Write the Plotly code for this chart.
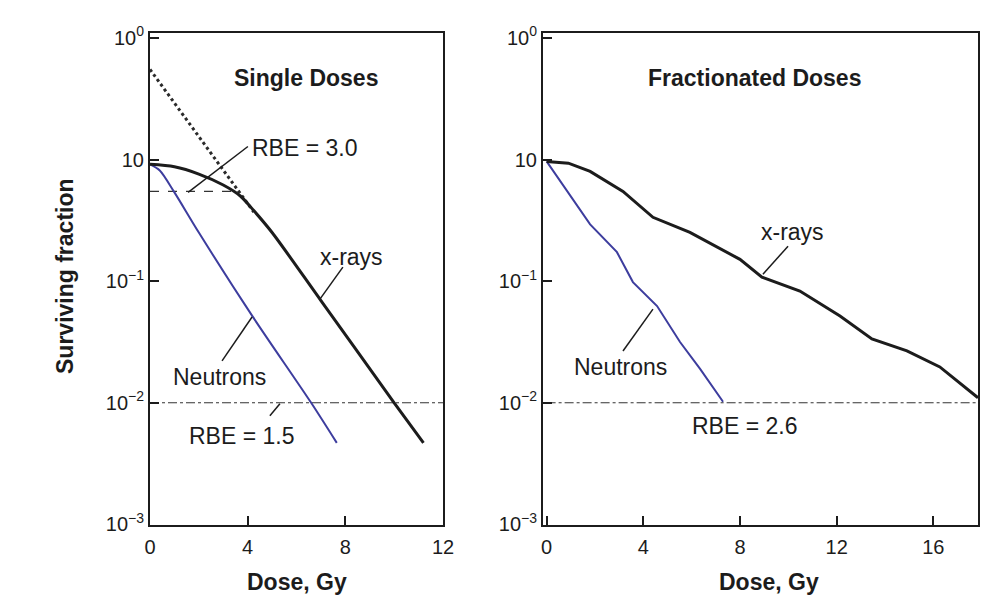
import plotly.graph_objects as go

# ---------------- data (surviving fraction vs dose) ----------------
# Left panel: single doses
single_xray_dose = [0, 1, 2, 3, 3.7, 4.25, 5, 7, 10, 11.2]
single_xray_sf = [0.0912, 0.0871, 0.0759, 0.0617, 0.0501, 0.0380, 0.0251, 0.00692, 0.00100, 0.000468]

single_neut_dose = [0, 0.4, 1.0, 2, 4.2, 6.6, 7.65]
single_neut_sf = [0.0912, 0.0813, 0.0537, 0.0251, 0.00513, 0.00100, 0.000468]

extrap_dose = [0, 4.25]
extrap_sf = [0.55, 0.037]

rbe3_dose = [0, 3.4]
rbe3_sf = [0.0547, 0.0547]

level_single_dose = [0, 12]
level_single_sf = [0.001, 0.001]

# Right panel: fractionated doses
frac_xray_dose = [0, 0.9, 1.8, 3.16, 4.4, 5.93, 8.0, 8.91, 10.48, 12.14, 13.46, 14.91, 16.27, 17.85]
frac_xray_sf = [0.0964, 0.0933, 0.0798, 0.0547, 0.0335, 0.0252, 0.0151, 0.0108, 0.00828,
                0.00516, 0.00335, 0.00267, 0.00197, 0.00110]

frac_neut_dose = [0, 0.43, 1.8, 2.91, 3.57, 4.57, 5.52, 6.35, 7.3]
frac_neut_sf = [0.0964, 0.0726, 0.0293, 0.0173, 0.00982, 0.00624, 0.00316, 0.0019, 0.00102]

level_frac_dose = [0, 17.85]
level_frac_sf = [0.001, 0.001]

y_tickvals = [1, 0.1, 0.01, 0.001, 0.0001]
y_ticktext = ["10<sup>0</sup>", "10", "10<sup>\u22121</sup>", "10<sup>\u22122</sup>", "10<sup>\u22123</sup>"]
x_ticks_left = [0, 4, 8, 12]
x_ticks_right = [0, 4, 8, 12, 16]

# ---------------- figure ----------------
INK = "#1c1c1c"
BLUE = "#3d3d9e"
FONT = "Liberation Sans, Arial, sans-serif"

fig = go.Figure()

def line(x, y, xa, ya, color, width, dash="solid", shape="linear"):
    fig.add_trace(go.Scatter(x=x, y=y, xaxis=xa, yaxis=ya, mode="lines",
                             line=dict(color=color, width=width, dash=dash, shape=shape,
                                       smoothing=0.8),
                             showlegend=False, hoverinfo="skip"))

# left
line(level_single_dose, level_single_sf, "x", "y", "#333333", 1, "dashdot")
line(rbe3_dose, rbe3_sf, "x", "y", "#333333", 1.2, "dash")
line(extrap_dose, extrap_sf, "x", "y", "#2a2a2a", 3, "dot")
line(single_neut_dose, single_neut_sf, "x", "y", BLUE, 2, shape="spline")
line(single_xray_dose, single_xray_sf, "x", "y", INK, 3, shape="spline")
# right
line(level_frac_dose, level_frac_sf, "x2", "y2", "#333333", 1, "dashdot")
line(frac_neut_dose, frac_neut_sf, "x2", "y2", BLUE, 2)
line(frac_xray_dose, frac_xray_sf, "x2", "y2", INK, 3)

xaxis_common = dict(showline=True, mirror=True, linecolor=INK, linewidth=2,
                    ticks="inside", ticklen=9, tickwidth=2, tickcolor=INK,
                    showgrid=False, zeroline=False, ticklabelstandoff=3, automargin=False,
                    tickfont=dict(family=FONT, size=20, color=INK))
yaxis_common = dict(type="log", range=[-4.005, 0.04], showline=True, mirror=True,
                    linecolor=INK, linewidth=2, ticks="inside", ticklen=9, tickwidth=2,
                    tickcolor=INK, showgrid=False, zeroline=False, automargin=False,
                    tickvals=y_tickvals, ticktext=y_ticktext,
                    tickfont=dict(family=FONT, size=20, color=INK))

ydom = [1 - 525 / 596, 1 - 33 / 596]
fig.update_layout(
    width=997, height=596,
    margin=dict(l=0, r=0, t=0, b=0, autoexpand=False),
    paper_bgcolor="white", plot_bgcolor="white",
    xaxis=dict(domain=[150 / 997, 443 / 997], range=[0, 12], tickvals=x_ticks_left,
               anchor="y", **xaxis_common),
    yaxis=dict(domain=ydom, anchor="x", **yaxis_common),
    xaxis2=dict(domain=[543 / 997, 978 / 997], range=[-0.15, 17.85], tickvals=x_ticks_right,
                anchor="y2", **xaxis_common),
    yaxis2=dict(domain=ydom, anchor="x2", **yaxis_common),
)

def txt(x, y, s, xr="x", yr="y", size=23, bold=False, xanchor="center", angle=0):
    fig.add_annotation(x=x, y=y, xref=xr, yref=yr, text=f"<b>{s}</b>" if bold else s,
                       showarrow=False, xanchor=xanchor, yanchor="middle", textangle=angle,
                       font=dict(family=FONT, size=size, color=INK))

def leader(x0, y0, x1, y1, xa="x", ya="y"):
    # label leader line; y given in log10 units
    fig.add_trace(go.Scatter(x=[x0, x1], y=[10 ** y0, 10 ** y1], xaxis=xa, yaxis=ya,
                             mode="lines", line=dict(color=INK, width=1.5),
                             showlegend=False, hoverinfo="skip"))

# left panel labels (y in log10 units)
txt(6.39, -0.328, "Single Doses", bold=True)
txt(4.10, -0.902, "RBE = 3.0", xanchor="left")
leader(1.56, -1.270, 4.01, -0.893)
txt(8.27, -1.803, "x-rays")
leader(7.90, -1.885, 6.96, -2.148)
txt(2.83, -2.787, "Neutrons")
leader(2.95, -2.656, 4.18, -2.295)
txt(3.73, -3.27, "RBE = 1.5")
leader(4.91, -3.107, 5.32, -3.008)

# right panel labels
txt(8.62, -0.328, "Fractionated Doses", "x2", "y2", bold=True)
txt(10.19, -1.598, "x-rays", "x2", "y2")
leader(9.99, -1.713, 8.95, -1.943, "x2", "y2")
txt(3.04, -2.705, "Neutrons", "x2", "y2")
leader(3.16, -2.574, 4.40, -2.230, "x2", "y2")
txt(8.17, -3.189, "RBE = 2.6", "x2", "y2")

# axis titles
txt(65 / 997, 1 - 276 / 596, "Surviving fraction", "paper", "paper", bold=True, angle=-90)
txt(297 / 997, 1 - 582 / 596, "Dose, Gy", "paper", "paper", bold=True)
txt(769 / 997, 1 - 582 / 596, "Dose, Gy", "paper", "paper", bold=True)

fig.write_html("out.html")
